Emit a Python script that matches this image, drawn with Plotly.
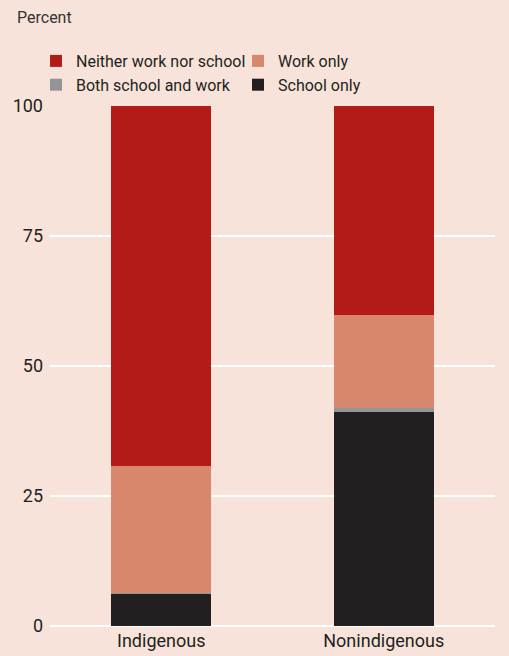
import plotly.graph_objects as go

categories = ["Indigenous", "Nonindigenous"]
school_only = [6.2, 41.2]
both_school_work = [0.2, 0.7]
work_only = [24.4, 17.9]
neither = [69.2, 40.2]

series = [
    ("School only", school_only, "#231F20"),
    ("Both school and work", both_school_work, "#939598"),
    ("Work only", work_only, "#D6876C"),
    ("Neither work nor school", neither, "#B31B17"),
]

FONT = "Roboto, Liberation Sans, sans-serif"
BG = "#F7E3D9"

fig = go.Figure()
for name, vals, color in series:
    fig.add_trace(go.Bar(x=categories, y=vals, name=name, marker=dict(color=color, line=dict(width=0)), width=0.45))

W, H = 509, 656
ml, mr, mt, mb = 50, 14, 106, 30
pw = W - ml - mr
ph = H - mt - mb

fig.update_layout(
    width=W, height=H,
    barmode="stack",
    paper_bgcolor=BG, plot_bgcolor=BG,
    margin=dict(l=ml, r=mr, t=mt, b=mb, autoexpand=False),
    font=dict(family=FONT, size=17, color="#231F20"),
    showlegend=True,
    legend=dict(orientation="h", traceorder="reversed", x=(36 - ml) / pw, xanchor="left",
                y=(H - mb - 44) / ph, yanchor="top", entrywidth=157, entrywidthmode="pixels",
                itemwidth=30, font=dict(size=16, family=FONT), bgcolor="rgba(0,0,0,0)", tracegroupgap=0),
    xaxis=dict(showgrid=False, showline=False, ticks="", tickfont=dict(size=18), range=[-0.5, 1.5],
               ticklabelstandoff=2, automargin=False),
    yaxis=dict(range=[0, 100], tickvals=[0, 25, 50, 75, 100], showgrid=True, gridcolor="#FFFFFF", gridwidth=1.5,
               zeroline=True, zerolinecolor="#FFFFFF", zerolinewidth=1.5, showline=False, ticks="",
               tickfont=dict(size=18), ticklabelstandoff=6, automargin=False),
    annotations=[dict(text="Percent", xref="paper", yref="paper", x=(15 - ml) / pw, y=(H - mb - 18) / ph,
                      xanchor="left", yanchor="middle", showarrow=False, font=dict(size=16, color="#333333", family=FONT))],
    bargap=0.55,
)

fig.write_html("out.html", config={"displayModeBar": False},
               post_script="document.body.style.margin='0';")
